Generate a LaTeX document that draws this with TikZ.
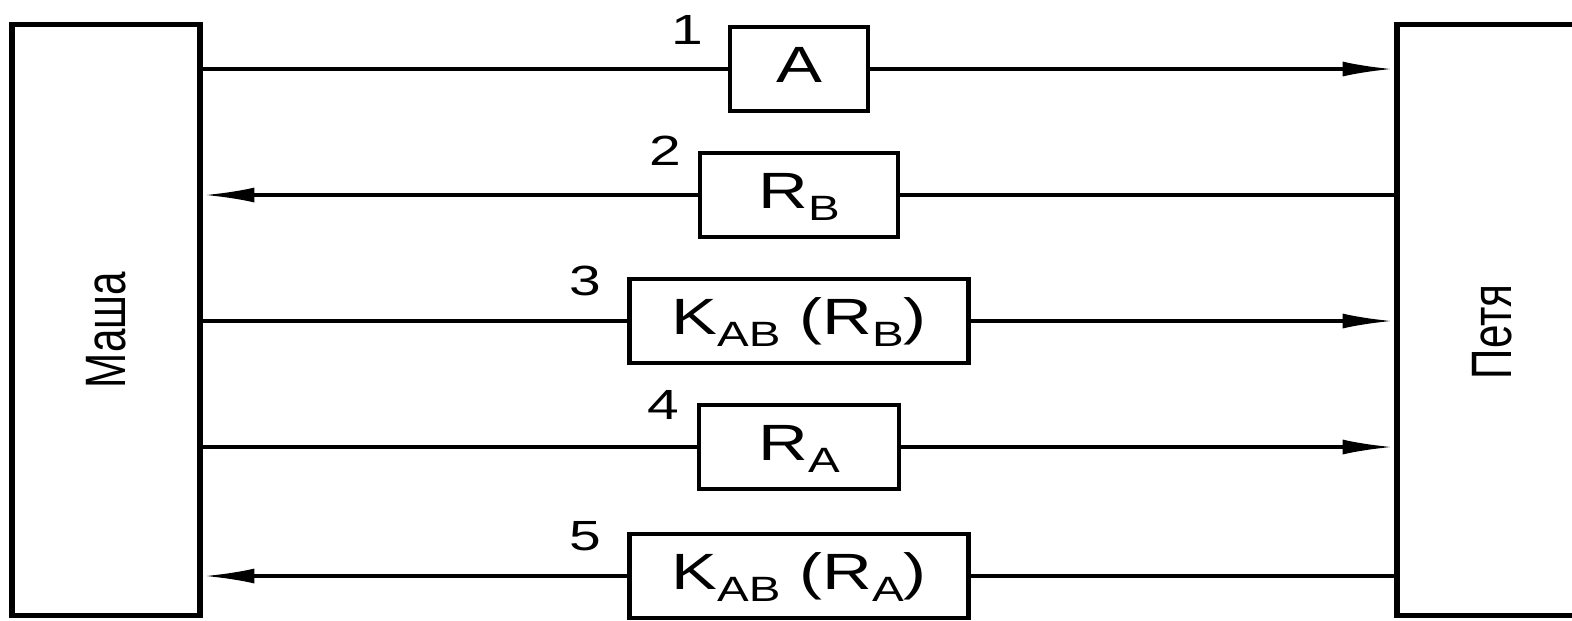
\documentclass[tikz,border=0pt]{standalone}
\usepackage{graphicx}
\usepackage{fontspec}
\setmainfont{Liberation Sans}
\usetikzlibrary{arrows.meta,positioning}
\newcommand{\lowsub}[1]{\raisebox{-3.4pt}{\fontsize{10}{10}\selectfont #1}}
\newcommand{\wide}[1]{\scalebox{1.35}[1]{#1}}

\begin{document}
\begin{tikzpicture}[x=0.01cm,y=-0.01cm,
	party/.style={draw, line width=1.5pt, minimum height=5.9cm, inner sep=0pt, font=\fontsize{12}{12}\selectfont},
	msg/.style={draw, line width=1.2pt, minimum height=0.84cm, inner sep=0pt, text height=10pt, text depth=2.4pt, font=\fontsize{14.5}{14.5}\selectfont},
	num/.style={anchor=base east, inner sep=0pt, font=\fontsize{12}{12}\selectfont},
	link/.style={line width=0.9pt},
	sent/.style={link, -{Latex[length=5mm,width=1.5mm]}, shorten >=0.5pt}]
		\useasboundingbox (0,0) rectangle (1572,620);
		
		\node[party, minimum width=1.88cm] (masha) at (106,320) {\wide{\rotatebox{90}{Маша\hspace{0.2cm}}}};
		\node[party, minimum width=1.9cm] (petya) at (1492,320) {\wide{\rotatebox{90}{Петя\hspace{0.24cm}}}\hspace{0.14cm}};
		
		\node[msg, minimum width=1.38cm] (m1) at (799,69) {\wide{A}};
		\node[msg, minimum width=1.98cm] (m2) at (799,195) {\wide{R\lowsub{B}}};
		\node[msg, minimum width=3.39cm] (m3) at (799,321) {\wide{K\lowsub{AB} (R\lowsub{B})}};
		\node[msg, minimum width=2.0cm] (m4) at (799,447) {\wide{R\lowsub{A}}};
		\node[msg, minimum width=3.39cm] (m5) at (799,576) {\wide{K\lowsub{AB} (R\lowsub{A})}};
		
		\node[num] (n1) at ([shift={(-24,20)}]m1.north west) {\wide{1}};
		\node[num] (n2) at ([shift={(-16,15)}]m2.north west) {\wide{2}};
		\node[num] (n3) at ([shift={(-25,19)}]m3.north west) {\wide{3}};
		\node[num] (n4) at ([shift={(-17,17)}]m4.north west) {\wide{4}};
		\node[num] (n5) at ([shift={(-25,19)}]m5.north west) {\wide{5}};
		
		\draw[link] (masha.east |- m1) -- (m1.west);
		\draw[sent] (m1.east) -- (petya.west |- m1);
		\draw[link] (petya.west |- m2) -- (m2.east);
		\draw[sent] (m2.west) -- (masha.east |- m2);
		\draw[link] (masha.east |- m3) -- (m3.west);
		\draw[sent] (m3.east) -- (petya.west |- m3);
		\draw[link] (masha.east |- m4) -- (m4.west);
		\draw[sent] (m4.east) -- (petya.west |- m4);
		\draw[link] (petya.west |- m5) -- (m5.east);
		\draw[sent] (m5.west) -- (masha.east |- m5);
		\end{tikzpicture}
\end{document}
